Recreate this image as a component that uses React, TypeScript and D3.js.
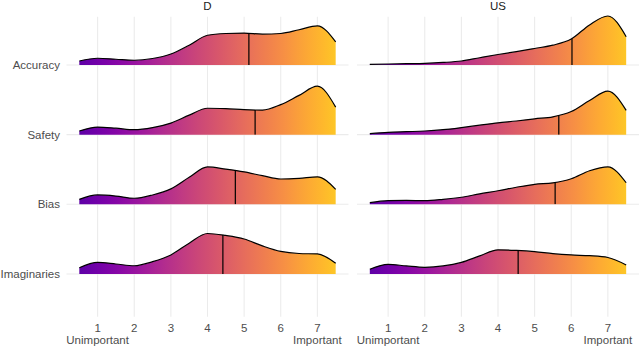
import React from 'react';
import * as d3 from 'd3';

// ridgeline of importance ratings (1-7), two groups side by side
const facets = ['D', 'US'];
const items = ['Accuracy', 'Safety', 'Bias', 'Imaginaries'];
const xTicks = [1, 2, 3, 4, 5, 6, 7];
const tickLabels = ['1\nUnimportant', '2', '3', '4', '5', '6', '7\nImportant'];

// density sampled at 0.5, 1, 1.5 ... 7.5
const samplePoints = [0.5, 1, 1.5, 2, 2.5, 3, 3.5, 4, 4.5, 5, 5.5, 6, 6.5, 7, 7.5];

const densD = {
  Accuracy: [0.036, 0.061, 0.052, 0.043, 0.059, 0.1, 0.18, 0.27, 0.286, 0.29, 0.28, 0.286, 0.32, 0.355, 0.21],
  Safety: [0.033, 0.069, 0.059, 0.045, 0.064, 0.105, 0.177, 0.24, 0.236, 0.227, 0.223, 0.273, 0.357, 0.44, 0.25],
  Bias: [0.045, 0.085, 0.075, 0.055, 0.085, 0.14, 0.245, 0.34, 0.32, 0.295, 0.26, 0.23, 0.236, 0.25, 0.136],
  Imaginaries: [0.057, 0.105, 0.091, 0.075, 0.112, 0.173, 0.28, 0.368, 0.35, 0.318, 0.255, 0.205, 0.186, 0.182, 0.097],
};
const densUS = {
  Accuracy: [0.006, 0.009, 0.012, 0.015, 0.023, 0.036, 0.066, 0.095, 0.121, 0.15, 0.18, 0.236, 0.364, 0.445, 0.257],
  Safety: [0.009, 0.021, 0.027, 0.033, 0.045, 0.064, 0.086, 0.107, 0.124, 0.144, 0.162, 0.21, 0.31, 0.395, 0.22],
  Bias: [0.015, 0.033, 0.035, 0.033, 0.045, 0.064, 0.095, 0.123, 0.155, 0.182, 0.195, 0.232, 0.305, 0.34, 0.196],
  Imaginaries: [0.043, 0.088, 0.073, 0.061, 0.073, 0.105, 0.164, 0.22, 0.214, 0.203, 0.185, 0.173, 0.166, 0.15, 0.082],
};
const mediansD = [5.13, 5.3, 4.76, 4.42];
const mediansUS = [6.02, 5.66, 5.56, 4.55];

const W = 640;
const H = 347;
const panels = [
  { name: facets[0], x0: 66.5, x1: 348.5, dens: densD, medians: mediansD },
  { name: facets[1], x0: 357, x1: 639, dens: densUS, medians: mediansUS },
];
const top = 16.7;
const bottom = 316.7;
const heightScale = 1.58; // density -> row units
const font = '"Liberation Sans", Arial, sans-serif';

const App = () => {
  const y = d3.scaleLinear().domain([0.387, 4.693]).range([bottom, top]);
  const rowPos = (i: number) => items.length - i;

  const stops = d3.range(0, 1.0001, 0.05).map(f => ({
    offset: f,
    color: d3.interpolatePlasma(0.17 + f * 0.71),
  }));

  return (
    <svg width={W} height={H} style={{ position: 'absolute', left: 0, top: 0, background: '#fff' }}
      fontFamily={font}>
      {panels.map((p, pi) => {
        const x = d3.scaleLinear().domain([0.15, 7.85]).range([p.x0, p.x1]);
        const gid = `grad-${pi}`;
        return (
          <g key={p.name}>
            <defs>
              <linearGradient id={gid} gradientUnits="userSpaceOnUse" x1={x(0.5)} x2={x(7.5)} y1={0} y2={0}>
                {stops.map(s => (
                  <stop key={s.offset} offset={s.offset} stopColor={s.color} />
                ))}
              </linearGradient>
            </defs>

            {/* grid */}
            {xTicks.map(t => (
              <line key={t} x1={x(t)} x2={x(t)} y1={top} y2={bottom} stroke="#ebebeb" strokeWidth={1.07} />
            ))}
            {items.map((it, i) => (
              <line key={it} x1={p.x0} x2={p.x1} y1={y(rowPos(i))} y2={y(rowPos(i))} stroke="#ebebeb" strokeWidth={1.07} />
            ))}

            {/* strip title */}
            <text x={(p.x0 + p.x1) / 2} y={6} dy="0.35em" textAnchor="middle" fontSize={11.5} fill="#1a1a1a">{p.name}</text>

            {/* ridges */}
            {items.map((it, i) => {
              const base = rowPos(i);
              const vals = p.dens[it];
              const pts = samplePoints.map((sx, k) => [sx, vals[k]]);
              const area = d3.area<number[]>()
                .x(d => x(d[0]))
                .y0(y(base))
                .y1(d => y(base + d[1] * heightScale))
                .curve(d3.curveMonotoneX);
              const line = d3.line<number[]>()
                .x(d => x(d[0]))
                .y(d => y(base + d[1] * heightScale))
                .curve(d3.curveMonotoneX);
              const cid = `clip-${pi}-${i}`;
              const m = p.medians[i];
              return (
                <g key={it}>
                  <clipPath id={cid}><path d={area(pts) || ''} /></clipPath>
                  <path d={area(pts) || ''} fill={`url(#${gid})`} />
                  <line x1={x(m)} x2={x(m)} y1={y(base)} y2={y(base + 1)} stroke="#000" strokeWidth={1.2} clipPath={`url(#${cid})`} />
                  <path d={line(pts) || ''} fill="none" stroke="#000" strokeWidth={1.2} />
                </g>
              );
            })}

            {/* x tick labels */}
            {xTicks.map((t, k) => (
              <text key={t} x={x(t)} y={327.5} textAnchor="middle" fontSize={11.5} fill="#4d4d4d">
                {tickLabels[k].split('\n').map((s, j) => (
                  <tspan key={j} x={x(t)} dy={j === 0 ? '0.35em' : 12}>{s}</tspan>
                ))}
              </text>
            ))}
          </g>
        );
      })}

      {/* y labels */}
      {items.map((it, i) => (
        <text key={it} x={60} y={y(rowPos(i))} dy="0.35em" textAnchor="end" fontSize={11.5} fill="#4d4d4d">{it}</text>
      ))}
    </svg>
  );
};

export default App;
